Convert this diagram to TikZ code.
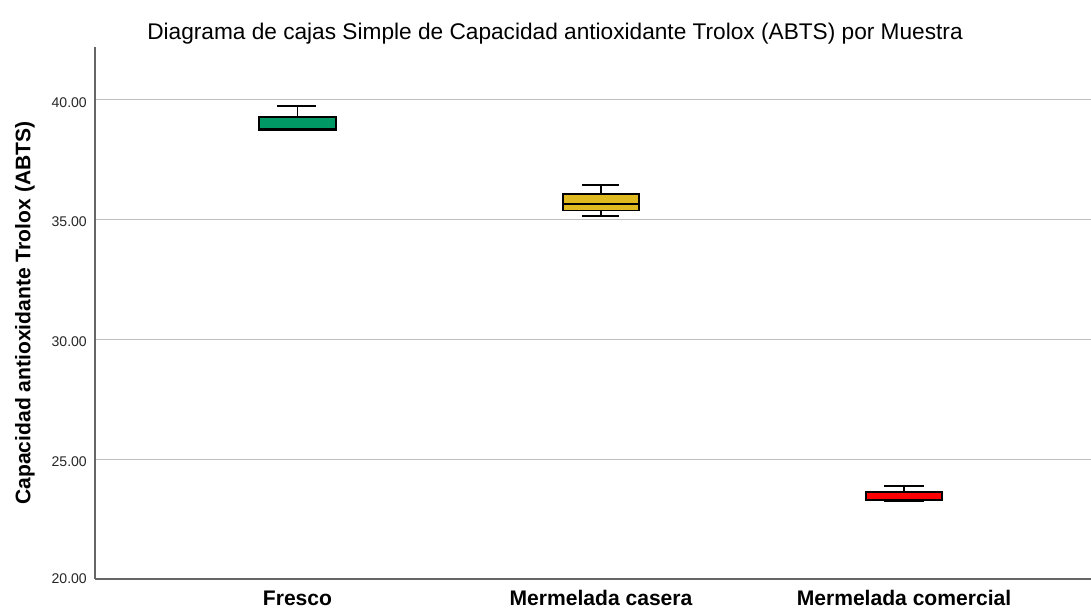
\documentclass[tikz,border=0pt]{standalone}
\usepackage{fontspec}
\setmainfont{Liberation Sans}
\definecolor{frescogreen}{RGB}{0,153,102}
\definecolor{caseragold}{RGB}{224,184,32}
\definecolor{comercialred}{RGB}{255,0,0}
\tikzset{
    gridline/.style={gray!50, line width=0.6pt},
    axisline/.style={gray!80!black, line width=0.8pt},
    whisker/.style={black, line width=0.9pt},
    boxpart/.style={draw=black, line width=0.7pt},
    ticklabel/.style={anchor=east, font=\fontsize{8}{9}\selectfont, text=black!85},
    catlabel/.style={font=\bfseries\fontsize{12}{14}\selectfont}
}
\begin{document}
\begin{tikzpicture}[x=0.02cm, y=0.479cm]
                \useasboundingbox (0, 18.747) rectangle (1091, 44.175);

                \draw [gridline] (95, 25) to (1091, 25);
                \draw [gridline] (95, 30) to (1091, 30);
                \draw [gridline] (95, 35) to (1091, 35);
                \draw [gridline] (95, 40) to (1091, 40);

                \draw [axisline] (95, 42.21) to (95, 20);
                \draw [axisline] (95, 20) to (1091, 20);

                \node [ticklabel] (t20) at (93, 20) {20.00};
                \node [ticklabel] (t25) at (93, 24.9) {25.00};
                \node [ticklabel] (t30) at (93, 29.9) {30.00};
                \node [ticklabel] (t35) at (93, 34.9) {35.00};
                \node [ticklabel] (t40) at (93, 39.9) {40.00};

                \draw [whisker] (297.5, 39.29) to (297.5, 39.75);
                \draw [whisker] (277, 39.75) to (316, 39.75);
                \draw [whisker] (277, 38.73) to (316, 38.73);
                \draw [boxpart, fill=frescogreen] (259, 38.75) rectangle (336, 39.29);
                \draw [whisker] (259, 38.80) to (336, 38.80);

                \draw [whisker] (601, 36.07) to (601, 36.45);
                \draw [whisker] (601, 35.37) to (601, 35.16);
                \draw [whisker] (582, 36.45) to (619, 36.45);
                \draw [whisker] (582, 35.16) to (619, 35.16);
                \draw [boxpart, fill=caseragold] (563, 35.37) rectangle (639, 36.07);
                \draw [whisker] (563, 35.66) to (639, 35.66);

                \draw [whisker] (904, 23.63) to (904, 23.88);
                \draw [whisker] (884, 23.88) to (924, 23.88);
                \draw [whisker] (884, 23.25) to (924, 23.25);
                \draw [boxpart, fill=comercialred] (866, 23.27) rectangle (942, 23.63);
                \draw [whisker] (866, 23.31) to (942, 23.31);

                \node [catlabel, anchor=base] (fresco) at (297.5, 18.9) {Fresco};
                \node [catlabel, anchor=base] (casera) at (601, 18.9) {Mermelada casera};
                \node [catlabel, anchor=base] (comercial) at (904, 18.9) {Mermelada comercial};

                \node [catlabel, rotate=90] (ylabel) at (25, 31.1) {Capacidad antioxidante Trolox (ABTS)};
                \node [font=\fontsize{12.9}{15}\selectfont] (title) at (555, 42.75) {Diagrama de cajas Simple de Capacidad antioxidante Trolox (ABTS) por Muestra};
            \end{tikzpicture}
\end{document}
